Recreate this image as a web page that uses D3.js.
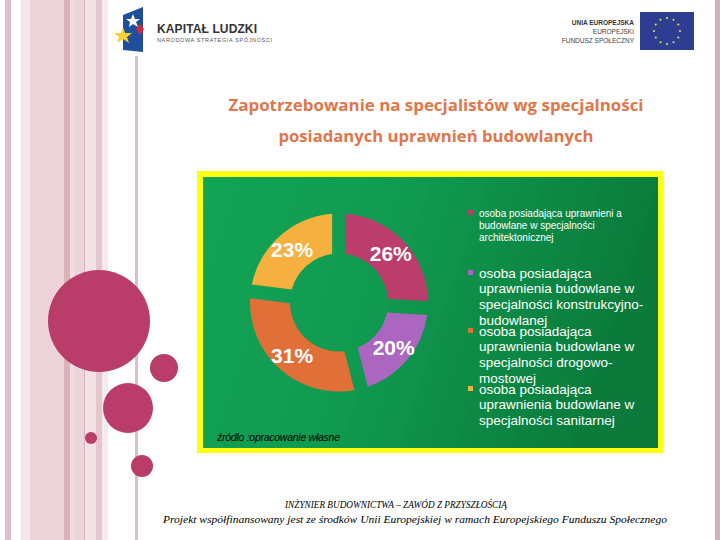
<!DOCTYPE html>
<html><head><meta charset="utf-8">
<script src="https://cdn.jsdelivr.net/npm/d3@7"></script>
<style>html,body{margin:0;padding:0;background:#fff;}svg{display:block;}</style>
</head><body>
<svg id="c" width="720" height="540"></svg>
<script>
// ---- data ----
const categories = [
  "osoba posiadająca uprawnienia budowlane w specjalności architektonicznej",
  "osoba posiadająca uprawnienia budowlane w specjalności konstrukcyjno-budowlanej",
  "osoba posiadająca uprawnienia budowlane w specjalności drogowo-mostowej",
  "osoba posiadająca uprawnienia budowlane w specjalności sanitarnej"
];
const values = [26, 20, 31, 23];
const valueLabels = ["26%", "20%", "31%", "23%"];
const legendLines = [
  ["osoba posiadająca uprawnieni a", "budowlane w specjalności", "architektonicznej"],
  ["osoba posiadająca", "uprawnienia budowlane w", "specjalności konstrukcyjno-", "budowlanej"],
  ["osoba posiadająca", "uprawnienia budowlane w", "specjalności drogowo-", "mostowej"],
  ["osoba posiadająca", "uprawnienia budowlane w", "specjalności sanitarnej"]
];
const colors = ["#bb3d6b", "#ab67c0", "#e06f38", "#f6b03f"];
const titleLines = ["Zapotrzebowanie na specjalistów wg specjalności", "posiadanych uprawnień budowlanych"];
const sourceText = "źródło :opracowanie własne";
const footerLines = ["INŻYNIER BUDOWNICTWA – ZAWÓD Z PRZYSZŁOŚCIĄ",
  "Projekt  współfinansowany jest ze środków Unii Europejskiej w ramach Europejskiego Funduszu Społecznego"];

const svg = d3.select("#c");

// ---- decorative stripes ----
const stripes = [
  [5, 6, "#dfc0c8"], [21, 9, "#f5e6ea"], [30, 34, "#ebd3d9"], [64, 6, "#dbb1ba"],
  [70, 5, "#f0dde2"], [75, 9, "#ebd5da"], [84, 1, "#d6b6be"], [85, 11, "#f2e3e7"],
  [96, 6, "#e4c6cd"], [102, 6, "#f5eaee"]
];
svg.selectAll("rect.stripe").data(stripes).join("rect").attr("class", "stripe")
  .attr("x", d => d[0]).attr("y", 0).attr("width", d => d[1]).attr("height", 540).attr("fill", d => d[2]);
svg.append("rect").attr("x", 135).attr("y", 56).attr("width", 3).attr("height", 484).attr("fill", "#dcc0c8");
svg.append("rect").attr("x", 715).attr("y", 0).attr("width", 5).attr("height", 540).attr("fill", "#d6aeb8");

// decorative circles
const circles = [[99, 321, 51], [164, 368, 14], [128, 408, 25], [91, 438, 6], [142, 466, 11]];
svg.selectAll("circle.deco").data(circles).join("circle").attr("class", "deco")
  .attr("cx", d => d[0]).attr("cy", d => d[1]).attr("r", d => d[2]).attr("fill", "#b93c69");

// ---- logos ----
const kl = svg.append("g");
kl.append("path").attr("d", "M123,15 L143,7 L143,52 L123,50 Z").attr("fill", "#1f4f9c");
kl.append("path").attr("d", "M133,14 l2,5 5,0 -4,3 2,5 -5,-3 -4,3 1,-5 -4,-3 5,0 Z").attr("fill", "#fff");
kl.append("path").attr("d", "M140,24 l4,5 -4,6 -4,-6 Z").attr("fill", "#d42a36");
kl.append("path").attr("d", "M123,27 l2,6 7,0 -5,4 2,6 -6,-4 -6,4 2,-6 -5,-4 7,0 Z").attr("fill", "#f5d232");
kl.append("text").attr("x", 157).attr("y", 33).attr("font-family", "Liberation Sans, Arial").attr("font-weight", "bold")
  .attr("font-size", 12).attr("fill", "#333").attr("textLength", 100).text("KAPITAŁ LUDZKI");
kl.append("text").attr("x", 157).attr("y", 42).attr("font-family", "Liberation Sans, Arial")
  .attr("font-size", 5.5).attr("fill", "#555").attr("textLength", 115).text("NARODOWA STRATEGIA SPÓJNOŚCI");

const eu = svg.append("g");
eu.append("text").attr("x", 634).attr("y", 25).attr("text-anchor", "end").attr("font-family", "Liberation Sans, Arial")
  .attr("font-weight", "bold").attr("font-size", 6.5).attr("fill", "#333").text("UNIA EUROPEJSKA");
eu.append("text").attr("x", 634).attr("y", 34).attr("text-anchor", "end").attr("font-family", "Liberation Sans, Arial")
  .attr("font-size", 6.5).attr("fill", "#444").text("EUROPEJSKI");
eu.append("text").attr("x", 634).attr("y", 43).attr("text-anchor", "end").attr("font-family", "Liberation Sans, Arial")
  .attr("font-size", 6.5).attr("fill", "#444").text("FUNDUSZ SPOŁECZNY");
eu.append("rect").attr("x", 640).attr("y", 12).attr("width", 54).attr("height", 38).attr("fill", "#2c3d92");
for (let i = 0; i < 12; i++) {
  const a = i / 12 * 2 * Math.PI;
  eu.append("circle").attr("cx", 667 + 13 * Math.sin(a)).attr("cy", 31 - 13 * Math.cos(a)).attr("r", 1.1).attr("fill", "#e8d84a");
}

// ---- title ----
const tl = [[111, 415], [142, 315]];
svg.selectAll("text.title").data(titleLines).join("text").attr("class", "title")
  .attr("x", 436).attr("y", (d, i) => tl[i][0]).attr("text-anchor", "middle")
  .attr("font-family", "Open Sans, DejaVu Sans, sans-serif").attr("font-weight", "bold").attr("font-size", 16)
  .attr("fill", "#e0764a").attr("textLength", (d, i) => tl[i][1]).attr("lengthAdjust", "spacingAndGlyphs").text(d => d);

// ---- chart panel ----
const defs = svg.append("defs");
const gr = defs.append("linearGradient").attr("id", "gbg").attr("x1", "0").attr("y1", "0").attr("x2", "1").attr("y2", "0.2");
gr.append("stop").attr("offset", "0").attr("stop-color", "#13a456");
gr.append("stop").attr("offset", "0.45").attr("stop-color", "#109a50");
gr.append("stop").attr("offset", "1").attr("stop-color", "#0b7a3b");
svg.append("rect").attr("x", 197).attr("y", 171).attr("width", 466).attr("height", 282).attr("fill", "#ffff10");
svg.append("rect").attr("x", 203).attr("y", 177).attr("width", 455).attr("height", 271).attr("fill", "url(#gbg)");

// ---- donut ----
const cx = 339, cy = 302.5, rOut = 89, rIn = 49;
const pie = d3.pie().sort(null).value(d => d).startAngle(0).endAngle(2 * Math.PI);
const arcs = pie(values);
const arc = d3.arc().innerRadius(rIn).outerRadius(rOut).padAngle(0.135);
const labelArc = d3.arc().innerRadius(rIn + 2).outerRadius(rOut + 2);
const g = svg.append("g").attr("transform", `translate(${cx},${cy})`);
g.selectAll("path").data(arcs).join("path").attr("d", arc).attr("fill", (d, i) => colors[i]);
g.selectAll("text").data(arcs).join("text")
  .attr("transform", d => `translate(${labelArc.centroid(d)})`)
  .attr("text-anchor", "middle").attr("dy", "0.36em")
  .attr("font-family", "Liberation Sans, Arial, sans-serif").attr("font-weight", "bold").attr("font-size", 21)
  .attr("fill", "#fff").text((d, i) => valueLabels[i]);

// ---- legend ----
const legendY = [213, 273, 331, 389];
const legendFont = [10, 13.5, 13.5, 13.5];
const legendLH = [12, 15.7, 15.7, 15.7];
const lg = svg.append("g");
legendLines.forEach((lines, i) => {
  lg.append("rect").attr("x", 468).attr("y", legendY[i] - 3).attr("width", 5).attr("height", 5).attr("fill", colors[i]);
  const t = lg.append("text").attr("font-family", "Liberation Sans, Arial, sans-serif")
    .attr("font-size", legendFont[i]).attr("fill", "#fff");
  lines.forEach((ln, j) => {
    t.append("tspan").attr("x", 479).attr("y", legendY[i] + j * legendLH[i]).attr("dy", "0.35em").text(ln);
  });
});

// source
svg.append("text").attr("x", 217).attr("y", 441).attr("font-family", "Liberation Sans, Arial, sans-serif")
  .attr("font-style", "italic").attr("font-size", 10.5).attr("fill", "#000").attr("textLength", 123).text(sourceText);

// footer
const fl = [[396, 508, 222], [415, 523, 504]];
svg.selectAll("text.foot").data(footerLines).join("text").attr("class", "foot")
  .attr("x", (d, i) => fl[i][0]).attr("y", (d, i) => fl[i][1]).attr("text-anchor", "middle")
  .attr("font-family", "Liberation Serif, Times New Roman, serif").attr("font-style", "italic").attr("font-size", 10.5)
  .attr("fill", "#000").attr("textLength", (d, i) => fl[i][2]).attr("lengthAdjust", "spacingAndGlyphs").text(d => d);
</script>
</body></html>
